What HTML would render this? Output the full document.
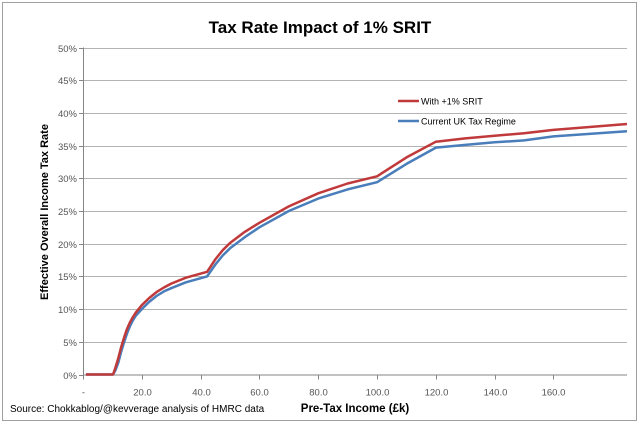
<!DOCTYPE html>
<html><head><meta charset="utf-8"><style>
body{margin:0;background:#fff;width:640px;height:429px;overflow:hidden}
svg{display:block;font-family:"Liberation Sans",sans-serif}
</style></head><body>
<svg width="640" height="429">
<rect x="2.5" y="2.5" width="634" height="418" fill="#fff" stroke="#a0a0a0"/>
<text x="320" y="33" text-anchor="middle" font-size="17" font-weight="bold" fill="#000">Tax Rate Impact of 1% SRIT</text>
<g id="grid"></g><g id="ax"></g><g id="series"></g>
<text transform="translate(48,212) rotate(-90)" text-anchor="middle" font-size="11" font-weight="bold">Effective Overall Income Tax Rate</text>
<text x="355" y="412" text-anchor="middle" font-size="11.5" font-weight="bold">Pre-Tax Income (£k)</text>
<text x="10" y="412" font-size="10" fill="#000">Source: Chokkablog/@kevverage analysis of HMRC data</text>
<g>
<line x1="398" y1="101" x2="419" y2="101" stroke="#c0393b" stroke-width="2.5"/>
<text x="421" y="104.5" font-size="9">With +1% SRIT</text>
<line x1="398" y1="121" x2="419" y2="121" stroke="#4a7ebb" stroke-width="2.5"/>
<text x="421" y="124.5" font-size="9">Current UK Tax Regime</text>
</g>
</svg>
<script>
const incomes=[1,10.2,11,12,13,14,15,16,17,18,20,22.5,25,27.5,30,35,42.2,45,47.5,50,55,60,70,80,90,100,110,120,130,140,150,160,185];
const sritRates=[0,0,1,2.5,4.2,5.7,7,8,8.8,9.5,10.6,11.7,12.6,13.3,13.9,14.8,15.7,17.6,19,20.1,21.8,23.2,25.7,27.7,29.2,30.3,33.2,35.6,36.1,36.5,36.9,37.4,38.3];
const currentRates=[0,0,0.6,1.8,3.5,5,6.3,7.4,8.3,9,10,11.1,12,12.7,13.2,14.1,15,16.8,18.2,19.3,21,22.5,25,26.9,28.3,29.4,32.2,34.7,35.1,35.5,35.8,36.4,37.2];
const yTicks=[0,5,10,15,20,25,30,35,40,45,50];
const xTicks=[0,20,40,60,80,100,120,140,160];
const xTickLabels=["-","20.0","40.0","60.0","80.0","100.0","120.0","140.0","160.0"];
const X0=83,X1=627,Y0=374.5,Y1=47.5,XMAX=185;
const sx=v=>X0+(v/XMAX)*(X1-X0);
const sy=v=>Y0-(v/50)*(Y0-Y1);
const NS="http://www.w3.org/2000/svg";
function mk(t,a,p){const e=document.createElementNS(NS,t);for(const k in a)e.setAttribute(k,a[k]);p.appendChild(e);return e;}
const grid=document.getElementById('grid'),ax=document.getElementById('ax'),ser=document.getElementById('series');
yTicks.forEach(v=>{
 const y=Math.round(sy(v))+0.5;
 if(v>0){const g=mk('line',{x1:X0,x2:X1,y1:y,y2:y,stroke:'#b4b4b4','stroke-width':1},grid);
 
 }
 mk('line',{x1:X0-4,x2:X0,y1:y,y2:y,stroke:'#868686'},ax);
 const t=mk('text',{x:X0-6,y:y+3.5,'text-anchor':'end','font-size':'9.5',fill:'#555'},ax);
 t.textContent=v+'%';
 
 
});
mk('line',{x1:X0+0.5,x2:X0+0.5,y1:Y1,y2:Y0,stroke:'#868686'},ax);
mk('line',{x1:X0,x2:X1,y1:Y0+0.5,y2:Y0+0.5,stroke:'#868686'},ax);
xTicks.forEach((v,i)=>{
 const x=Math.round(sx(v))+0.5;
 mk('line',{x1:x,x2:x,y1:Y0,y2:Y0+5,stroke:'#868686'},ax);
 const t=mk('text',{x:x,y:Y0+21,'text-anchor':'middle','font-size':'9.5',fill:'#555'},ax);
 t.textContent=xTickLabels[i];
 
 
});
function line(vals,col,name){
 const d=incomes.map((v,i)=>(i?'L':'M')+sx(v).toFixed(1)+','+sy(vals[i]).toFixed(1)).join('');
 const p=mk('path',{d:d,fill:'none',stroke:col,'stroke-width':2.5,'stroke-linejoin':'round'},ser);
 
 
}
line(currentRates,'#4a7ebb','series-current-regime');
line(sritRates,'#c0393b','series-with-srit');
</script>
</body></html>
